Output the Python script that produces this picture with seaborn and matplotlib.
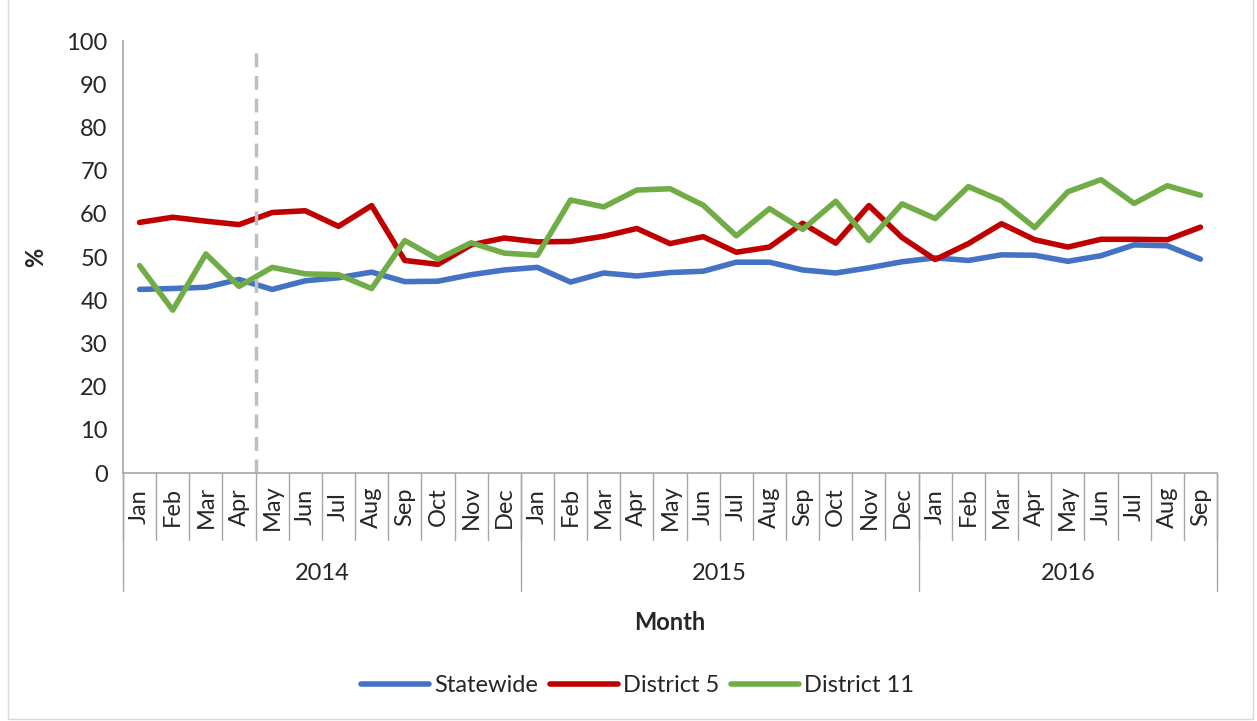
import numpy as np
import pandas as pd
import matplotlib
matplotlib.use("Agg")
import matplotlib.pyplot as plt
import seaborn as sns
from matplotlib.patches import Rectangle

# ── data ──
months = ["Jan", "Feb", "Mar", "Apr", "May", "Jun", "Jul", "Aug", "Sep", "Oct", "Nov", "Dec",
          "Jan", "Feb", "Mar", "Apr", "May", "Jun", "Jul", "Aug", "Sep", "Oct", "Nov", "Dec",
          "Jan", "Feb", "Mar", "Apr", "May", "Jun", "Jul", "Aug", "Sep"]
years = ["2014", "2015", "2016"]
year_lengths = [12, 12, 9]

statewide = [42.5, 42.7, 43.0, 44.8, 42.5, 44.5, 45.2, 46.5, 44.3, 44.4, 45.9, 47.0,
             47.6, 44.2, 46.3, 45.6, 46.4, 46.7, 48.8, 48.8, 47.0, 46.3, 47.5, 48.9,
             49.8, 49.2, 50.5, 50.4, 49.0, 50.3, 52.8, 52.6, 49.5]
district5 = [58.0, 59.2, 58.3, 57.5, 60.3, 60.7, 57.1, 61.9, 49.2, 48.3, 52.8, 54.4,
             53.5, 53.6, 54.8, 56.6, 53.1, 54.7, 51.1, 52.3, 57.8, 53.2, 61.9, 54.5,
             49.4, 53.1, 57.7, 54.0, 52.3, 54.1, 54.1, 54.0, 56.9]
district11 = [48.0, 37.7, 50.7, 43.2, 47.6, 46.1, 45.9, 42.7, 53.8, 49.5, 53.3, 50.9,
              50.4, 63.2, 61.6, 65.5, 65.8, 62.0, 54.9, 61.2, 56.4, 62.9, 53.8, 62.3,
              58.9, 66.3, 63.0, 56.8, 65.1, 67.9, 62.4, 66.5, 64.3]

series = {"Statewide": statewide, "District 5": district5, "District 11": district11}
colors = {"Statewide": "#4472C4", "District 5": "#C00000", "District 11": "#70AD47"}

rows = []
for name, vals in series.items():
    for i, v in enumerate(vals):
        rows.append({"idx": i, "value": v, "series": name})
df = pd.DataFrame(rows)

sns.set_style("white")
plt.rcParams["font.family"] = ["Lato", "DejaVu Sans"]
FS = 17

fig = plt.figure(figsize=(12.57, 7.21), dpi=100)
ax = fig.add_axes([123 / 1257, 1 - 473 / 721, (1217 - 123) / 1257, (473 - 41) / 721])

sns.lineplot(data=df, x="idx", y="value", hue="series", palette=colors,
             linewidth=4, ax=ax, legend=False, solid_capstyle="round")

n = len(months)
ax.set_xlim(-0.5, n - 0.5)
ax.set_ylim(0, 100)
ax.set_yticks(range(0, 101, 10))
ax.tick_params(axis="y", labelsize=FS, length=6, color="#A6A6A6", direction="out", pad=5)
ax.tick_params(axis="x", length=0)
ax.set_xticks([])
ax.set_xlabel("")
ax.set_ylabel("%", fontsize=FS, fontweight="bold", labelpad=14)
for s in ["top", "right"]:
    ax.spines[s].set_visible(False)
for s in ["left", "bottom"]:
    ax.spines[s].set_color("#A6A6A6")
    ax.spines[s].set_linewidth(1.2)

# dashed marker between Apr and May 2014
ax.plot([3.5, 3.5], [0, 99], color="#BFBFBF", linestyle="--", linewidth=2.5, dashes=(4, 2.5))

# month labels and separators below the axis
trans = ax.get_xaxis_transform()
ax_h = 473 - 41
def yfrac(px):
    return -(px - 473) / ax_h

for i, m in enumerate(months):
    ax.text(i, yfrac(507), m, rotation=90, ha="center", va="center",
            fontsize=FS, transform=trans, clip_on=False)
for i in range(n + 1):
    ax.plot([i - 0.5, i - 0.5], [0, yfrac(540)], color="#A6A6A6", lw=1,
            transform=trans, clip_on=False)

start = 0
for y, L in zip(years, year_lengths):
    ax.plot([start - 0.5, start - 0.5], [0, yfrac(591)], color="#A6A6A6", lw=1,
            transform=trans, clip_on=False)
    ax.text(start + L / 2 - 0.5, yfrac(574), y, ha="center", va="center",
            fontsize=FS, transform=trans, clip_on=False)
    start += L
ax.plot([n - 0.5, n - 0.5], [0, yfrac(591)], color="#A6A6A6", lw=1,
        transform=trans, clip_on=False)

fig.text((123 + 1217) / 2 / 1257, 1 - 623 / 721, "Month", ha="center", va="center",
         fontsize=FS, fontweight="bold")

handles = [plt.Line2D([0], [0], color=colors[k], lw=4, solid_capstyle="round") for k in series]
fig.legend(handles, list(series.keys()), loc="center", bbox_to_anchor=(0.507, 1 - 686 / 721),
           ncol=3, frameon=False, fontsize=FS, handlelength=2.9, columnspacing=0.5,
           handletextpad=0.2)

fig.patches.append(Rectangle((8 / 1257, 2 / 721), 1245 / 1257, 740 / 721, transform=fig.transFigure,
                             fill=False, edgecolor="#D9D9D9", lw=1))

fig.savefig("out.png", dpi=100)
